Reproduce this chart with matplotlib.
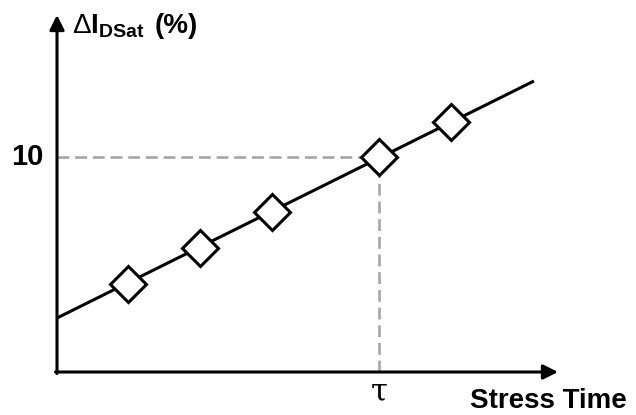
import matplotlib
matplotlib.use("Agg")
import matplotlib.pyplot as plt

plt.rcParams['font.family'] = ['Liberation Sans', 'DejaVu Sans']
plt.rcParams['mathtext.fontset'] = 'custom'
plt.rcParams['mathtext.rm'] = 'Liberation Sans'
plt.rcParams['mathtext.bf'] = 'Liberation Sans:bold'

# Degradation trend: measured points and fitted line
stress_time = [1.42, 2.85, 4.29, 6.43, 7.86]
delta_idsat = [4.09, 5.77, 7.44, 10.0, 11.64]
fit_x = [0.0, 9.52]
fit_y = [2.51, 13.53]

# Lifetime criterion
criterion = 10.0
tau = 6.43
y_ticks = [10]
y_tick_labels = ["10"]

W, H = 636, 415
fig = plt.figure(figsize=(W / 100, H / 100), dpi=100)
ax = fig.add_axes([57 / W, (H - 372) / H, (558 - 57) / W, (372 - 15) / H])
ax.set_xlim(0, 10)
ax.set_ylim(0, 16.6)
ax.axis('off')

# axes drawn as arrows
arrow = dict(arrowstyle='-|>', color='black', lw=2.2, mutation_scale=22,
             shrinkA=0, shrinkB=0)
ax.annotate('', xy=(10, 0), xytext=(-0.03, 0), arrowprops=arrow,
            annotation_clip=False)
ax.annotate('', xy=(0, 16.6), xytext=(0, -0.07), arrowprops=arrow,
            annotation_clip=False)

# guide lines to the criterion and lifetime
gray = '#a6a6a6'
ax.plot([0, tau], [criterion, criterion], color=gray, lw=1.9,
        dashes=(4.5, 2.2), zorder=1, clip_on=False)
ax.plot([tau, tau], [0, criterion], color=gray, lw=1.9,
        dashes=(4.5, 2.2), zorder=1, clip_on=False)

# fit line and data points
ax.plot(fit_x, fit_y, color='black', lw=2.2, zorder=2, clip_on=False,
        solid_capstyle='butt')
ax.plot(stress_time, delta_idsat, linestyle='none', marker='D',
        markersize=18.5, markerfacecolor='white', markeredgecolor='black',
        markeredgewidth=2.2, zorder=3, clip_on=False)

# labels
for v, lab in zip(y_ticks, y_tick_labels):
    ax.annotate(lab, xy=(0, v), xytext=(-10, 0), textcoords='offset points',
                ha='right', va='center', fontsize=21, fontweight='bold',
                annotation_clip=False)
ax.annotate('τ', xy=(tau, 0), xytext=(0, -3), textcoords='offset points',
            ha='center', va='top', fontsize=22, family='DejaVu Serif',
            annotation_clip=False)

fig.text(627 / W, 1 - 408 / H, 'Stress Time', ha='right', va='baseline',
         fontsize=20, fontweight='bold')
fig.text(72 / W, 1 - 33 / H, r'$\Delta\mathbf{I}_{\mathbf{DSat}}$',
         ha='left', va='baseline', fontsize=20)
fig.text(155 / W, 1 - 33 / H, '(%)', ha='left', va='baseline',
         fontsize=20, fontweight='bold')

fig.savefig('out.png', dpi=100)
